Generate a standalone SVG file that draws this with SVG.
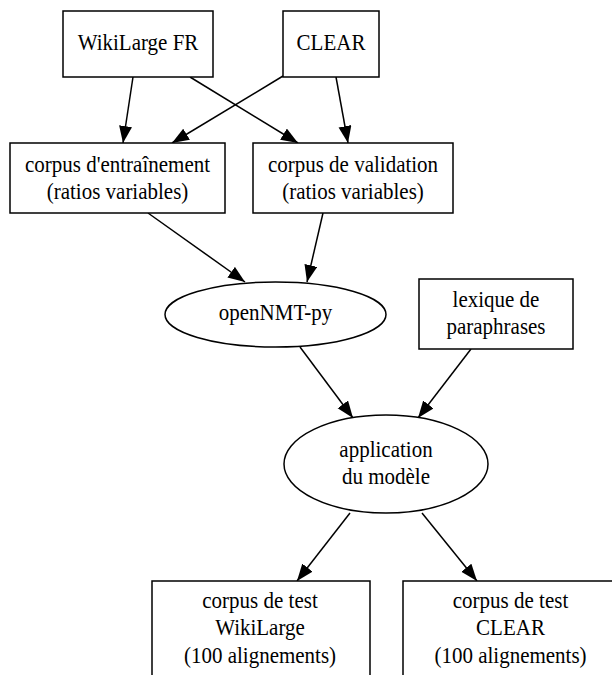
<svg xmlns="http://www.w3.org/2000/svg" width="612" height="675" viewBox="0 0 612 675">
<defs>
<style>
.n{fill:#fff;stroke:#000;stroke-width:1.5}
.t{font-family:"Liberation Serif","Times New Roman",serif;font-size:23px;text-anchor:middle;fill:#000}
.e{fill:none;stroke:#000;stroke-width:1.5;marker-end:url(#a)}
</style>
<marker id="a" markerUnits="userSpaceOnUse" markerWidth="18" markerHeight="14" refX="17" refY="6.5" orient="auto">
<path d="M0,0 L17,6.5 L0,13 Z" fill="#000"/>
</marker>
</defs>
<rect width="612" height="675" fill="#fff"/>
<g id="edges">
<line class="e" x1="133" y1="77" x2="123" y2="143"/>
<line class="e" x1="190" y1="77" x2="298" y2="143"/>
<line class="e" x1="283" y1="76" x2="172" y2="143"/>
<line class="e" x1="336" y1="77" x2="348" y2="143"/>
<line class="e" x1="148" y1="213" x2="245" y2="282"/>
<line class="e" x1="323" y1="213" x2="307" y2="282"/>
<line class="e" x1="300" y1="347" x2="353" y2="418"/>
<line class="e" x1="471" y1="349" x2="418" y2="418"/>
<line class="e" x1="350" y1="513" x2="297" y2="581"/>
<line class="e" x1="422" y1="513" x2="477" y2="581"/>
</g>
<g id="wikilarge">
<rect class="n" x="63" y="11" width="150" height="66"/>
<text class="t" transform="translate(138,49.5) scale(0.913,1)">WikiLarge FR</text>
</g>
<g id="clear">
<rect class="n" x="283" y="11" width="96" height="66"/>
<text class="t" transform="translate(331,49.5) scale(0.913,1)">CLEAR</text>
</g>
<g id="entrainement">
<rect class="n" x="10" y="143" width="215" height="70"/>
<text class="t" transform="translate(117.5,171.5) scale(0.913,1)">corpus d'entraînement</text>
<text class="t" transform="translate(117.5,199) scale(0.913,1)">(ratios variables)</text>
</g>
<g id="validation">
<rect class="n" x="253" y="143" width="200" height="70"/>
<text class="t" transform="translate(353,171.5) scale(0.913,1)">corpus de validation</text>
<text class="t" transform="translate(353,199) scale(0.913,1)">(ratios variables)</text>
</g>
<g id="opennmt">
<ellipse class="n" cx="275.5" cy="314.5" rx="110.5" ry="32.5"/>
<text class="t" transform="translate(275.5,320) scale(0.913,1)">openNMT-py</text>
</g>
<g id="lexique">
<rect class="n" x="419" y="279" width="154" height="70"/>
<text class="t" transform="translate(496,307) scale(0.913,1)">lexique de</text>
<text class="t" transform="translate(496,334) scale(0.913,1)">paraphrases</text>
</g>
<g id="application">
<ellipse class="n" cx="386" cy="464" rx="102" ry="49"/>
<text class="t" transform="translate(386,457) scale(0.913,1)">application</text>
<text class="t" transform="translate(386,484) scale(0.913,1)">du modèle</text>
</g>
<g id="test-wikilarge">
<rect class="n" x="152" y="581" width="218" height="120"/>
<text class="t" transform="translate(260,608) scale(0.913,1)">corpus de test</text>
<text class="t" transform="translate(260,635) scale(0.913,1)">WikiLarge</text>
<text class="t" transform="translate(260,663) scale(0.913,1)">(100 alignements)</text>
</g>
<g id="test-clear">
<rect class="n" x="403" y="581" width="215" height="120"/>
<text class="t" transform="translate(510.5,608) scale(0.913,1)">corpus de test</text>
<text class="t" transform="translate(510.5,635) scale(0.913,1)">CLEAR</text>
<text class="t" transform="translate(510.5,663) scale(0.913,1)">(100 alignements)</text>
</g>
</svg>
